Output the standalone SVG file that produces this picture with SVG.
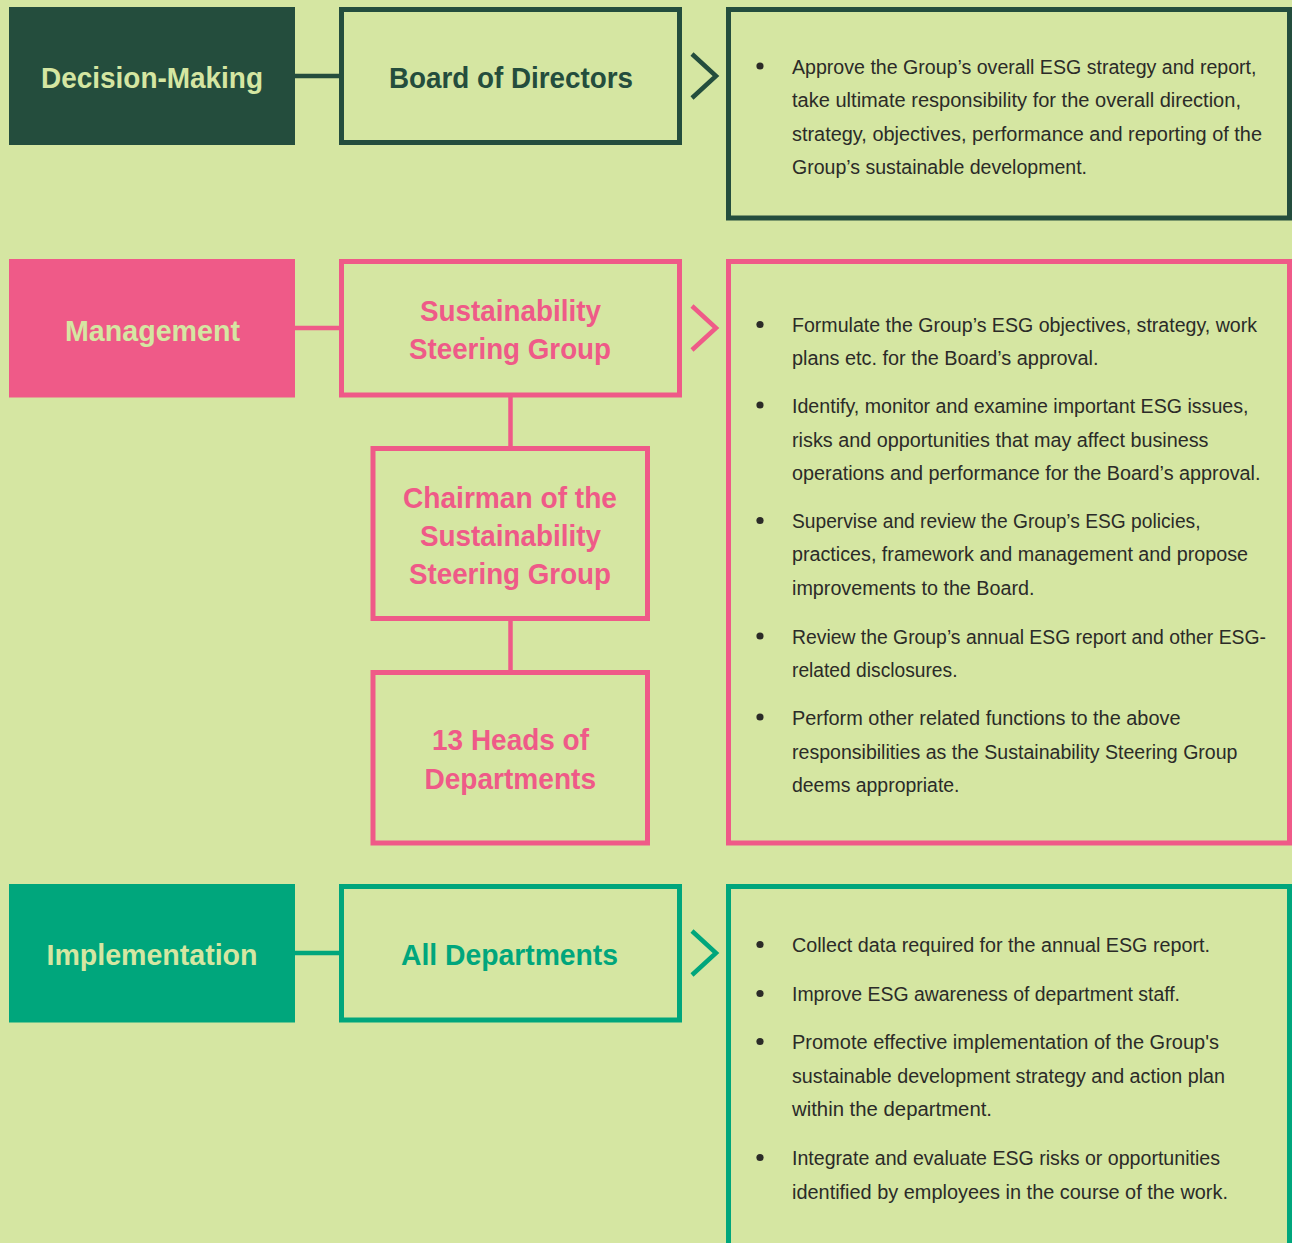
<svg xmlns="http://www.w3.org/2000/svg" width="1292" height="1243" viewBox="0 0 1292 1243">
<style>
.title{font-family:"Liberation Sans",Arial,sans-serif;font-weight:bold;font-size:30px}
.body{font-family:"Liberation Sans",Arial,sans-serif;font-size:20px;fill:#2b2b28}
.lt{fill:#d5e6a2}
.dg{fill:#244d3d}
.pk{fill:#ef5a88}
.tl{fill:#00a67c}
.box{fill:none;stroke-width:5}
.bul{fill:#2b2b28}
</style>
<rect width="1292" height="1243" fill="#d5e6a2"/>
<g id="connectors" fill="none" stroke-width="4.5">
<line x1="295" y1="76" x2="341" y2="76" stroke="#244d3d"/>
<line x1="295" y1="328" x2="341" y2="328" stroke="#ef5a88"/>
<line x1="510.5" y1="397" x2="510.5" y2="448" stroke="#ef5a88"/>
<line x1="510.5" y1="620" x2="510.5" y2="672" stroke="#ef5a88"/>
<line x1="295" y1="953" x2="341" y2="953" stroke="#00a67c"/>
<polyline points="692,54 716,76 692,98" stroke="#244d3d"/>
<polyline points="692,306 716,328 692,350" stroke="#ef5a88"/>
<polyline points="692,931 716,953 692,975" stroke="#00a67c"/>
</g>
<g id="decision-making">
<rect x="9" y="7" width="286" height="138" class="dg"/>
<text x="41" y="88" class="title lt" textLength="222" lengthAdjust="spacingAndGlyphs">Decision-Making</text>
</g>
<g id="board">
<rect x="341.5" y="9.5" width="338" height="133" class="box" stroke="#244d3d"/>
<text x="389" y="88" class="title dg" textLength="244" lengthAdjust="spacingAndGlyphs">Board of Directors</text>
</g>
<g id="board-desc">
<rect x="728.5" y="9.5" width="561" height="208.5" class="box" stroke="#244d3d"/>
<circle cx="760" cy="66" r="3.6" class="bul"/>
<text class="body" x="792" y="74" textLength="464.5" lengthAdjust="spacingAndGlyphs">Approve the Group’s overall ESG strategy and report,</text>
<text class="body" x="792" y="107.3" textLength="449" lengthAdjust="spacingAndGlyphs">take ultimate responsibility for the overall direction,</text>
<text class="body" x="792" y="140.6" textLength="470" lengthAdjust="spacingAndGlyphs">strategy, objectives, performance and reporting of the</text>
<text class="body" x="792" y="174" textLength="295" lengthAdjust="spacingAndGlyphs">Group’s sustainable development.</text>
</g>
<g id="management">
<rect x="9" y="259" width="286" height="138.5" class="pk"/>
<text x="65" y="341" class="title lt" textLength="175" lengthAdjust="spacingAndGlyphs">Management</text>
</g>
<g id="steering-group">
<rect x="341.5" y="261.5" width="338" height="133.5" class="box" stroke="#ef5a88"/>
<text x="420" y="321" class="title pk" textLength="181" lengthAdjust="spacingAndGlyphs">Sustainability</text>
<text x="409" y="359" class="title pk" textLength="202" lengthAdjust="spacingAndGlyphs">Steering Group</text>
</g>
<g id="chairman">
<rect x="373" y="448.5" width="274.5" height="170" class="box" stroke="#ef5a88"/>
<text x="403" y="508" class="title pk" textLength="214" lengthAdjust="spacingAndGlyphs">Chairman of the</text>
<text x="420" y="546" class="title pk" textLength="181" lengthAdjust="spacingAndGlyphs">Sustainability</text>
<text x="409" y="584" class="title pk" textLength="202" lengthAdjust="spacingAndGlyphs">Steering Group</text>
</g>
<g id="heads">
<rect x="373" y="672.5" width="274.5" height="170.5" class="box" stroke="#ef5a88"/>
<text x="432" y="750" class="title pk" textLength="157" lengthAdjust="spacingAndGlyphs">13 Heads of</text>
<text x="424.5" y="789" class="title pk" textLength="171.5" lengthAdjust="spacingAndGlyphs">Departments</text>
</g>
<g id="management-desc">
<rect x="728.5" y="261.5" width="561" height="581.5" class="box" stroke="#ef5a88"/>
<circle cx="760" cy="324.5" r="3.6" class="bul"/>
<text class="body" x="792" y="332" textLength="465" lengthAdjust="spacingAndGlyphs">Formulate the Group’s ESG objectives, strategy, work</text>
<text class="body" x="792" y="364.5" textLength="306.5" lengthAdjust="spacingAndGlyphs">plans etc. for the Board’s approval.</text>
<circle cx="760" cy="405" r="3.6" class="bul"/>
<text class="body" x="792" y="412.5" textLength="456.5" lengthAdjust="spacingAndGlyphs">Identify, monitor and examine important ESG issues,</text>
<text class="body" x="792" y="446.5" textLength="416.5" lengthAdjust="spacingAndGlyphs">risks and opportunities that may affect business</text>
<text class="body" x="792" y="479.5" textLength="468.5" lengthAdjust="spacingAndGlyphs">operations and performance for the Board’s approval.</text>
<circle cx="760" cy="520.5" r="3.6" class="bul"/>
<text class="body" x="792" y="528" textLength="408.5" lengthAdjust="spacingAndGlyphs">Supervise and review the Group’s ESG policies,</text>
<text class="body" x="792" y="561" textLength="456" lengthAdjust="spacingAndGlyphs">practices, framework and management and propose</text>
<text class="body" x="792" y="594.5" textLength="242.5" lengthAdjust="spacingAndGlyphs">improvements to the Board.</text>
<circle cx="760" cy="636" r="3.6" class="bul"/>
<text class="body" x="792" y="643.5" textLength="474" lengthAdjust="spacingAndGlyphs">Review the Group’s annual ESG report and other ESG-</text>
<text class="body" x="792" y="677" textLength="165.5" lengthAdjust="spacingAndGlyphs">related disclosures.</text>
<circle cx="760" cy="717" r="3.6" class="bul"/>
<text class="body" x="792" y="724.5" textLength="388.5" lengthAdjust="spacingAndGlyphs">Perform other related functions to the above</text>
<text class="body" x="792" y="758.5" textLength="445.5" lengthAdjust="spacingAndGlyphs">responsibilities as the Sustainability Steering Group</text>
<text class="body" x="792" y="791.5" textLength="167.5" lengthAdjust="spacingAndGlyphs">deems appropriate.</text>
</g>
<g id="implementation">
<rect x="9" y="884" width="286" height="138.5" class="tl"/>
<text x="46.5" y="965" class="title lt" textLength="211" lengthAdjust="spacingAndGlyphs">Implementation</text>
</g>
<g id="all-departments">
<rect x="341.5" y="886.5" width="338" height="133.5" class="box" stroke="#00a67c"/>
<text x="401" y="965" class="title tl" textLength="217" lengthAdjust="spacingAndGlyphs">All Departments</text>
</g>
<g id="implementation-desc">
<rect x="728.5" y="886.5" width="561" height="420" class="box" stroke="#00a67c"/>
<circle cx="760" cy="944.5" r="3.6" class="bul"/>
<text class="body" x="792" y="952" textLength="418" lengthAdjust="spacingAndGlyphs">Collect data required for the annual ESG report.</text>
<circle cx="760" cy="993.5" r="3.6" class="bul"/>
<text class="body" x="792" y="1001" textLength="388" lengthAdjust="spacingAndGlyphs">Improve ESG awareness of department staff.</text>
<circle cx="760" cy="1041.5" r="3.6" class="bul"/>
<text class="body" x="792" y="1049" textLength="427" lengthAdjust="spacingAndGlyphs">Promote effective implementation of the Group's</text>
<text class="body" x="792" y="1082.5" textLength="433" lengthAdjust="spacingAndGlyphs">sustainable development strategy and action plan</text>
<text class="body" x="792" y="1116" textLength="200" lengthAdjust="spacingAndGlyphs">within the department.</text>
<circle cx="760" cy="1157.5" r="3.6" class="bul"/>
<text class="body" x="792" y="1165" textLength="428" lengthAdjust="spacingAndGlyphs">Integrate and evaluate ESG risks or opportunities</text>
<text class="body" x="792" y="1198.5" textLength="436" lengthAdjust="spacingAndGlyphs">identified by employees in the course of the work.</text>
</g>
</svg>
